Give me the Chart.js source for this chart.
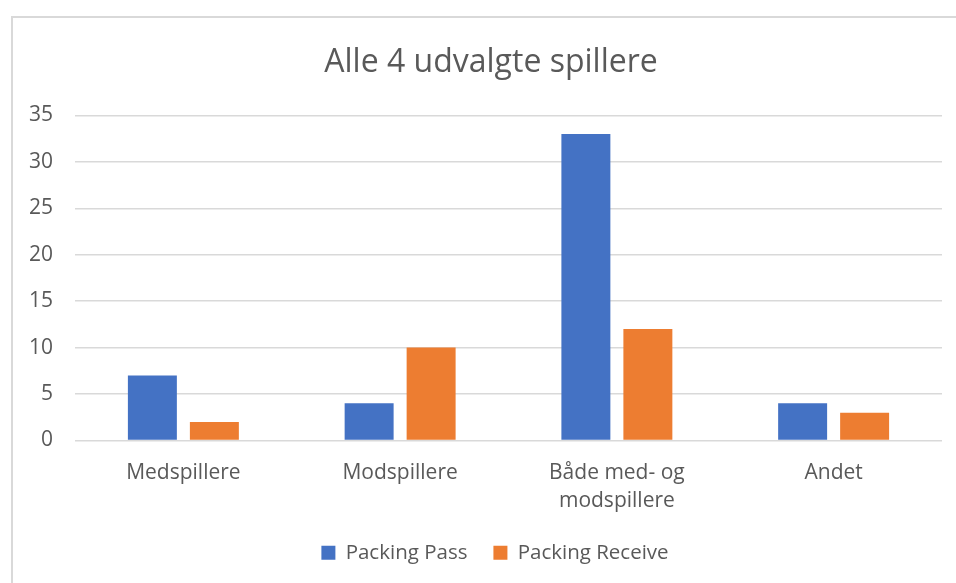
<!DOCTYPE html>
<html>
<head>
<meta charset="utf-8">
<script src="https://cdn.jsdelivr.net/npm/chart.js@4.4.0/dist/chart.umd.min.js"></script>
<style>
  html, body { margin: 0; padding: 0; background: #fff; }
  #wrap { position: relative; width: 956px; height: 583px; }
  #frame {
    position: absolute; left: 11px; top: 16px; right: -10px; bottom: -10px;
    border-left: 2px solid #d9d9d9; border-top: 2px solid #d9d9d9;
  }
  canvas { position: absolute; left: 0; top: 0; }
</style>
</head>
<body>
<div id="wrap">
  <div id="frame"></div>
  <canvas id="chart" width="956" height="583"></canvas>
</div>
<script>
const categories = ['Medspillere', 'Modspillere', ['Både med- og', 'modspillere'], 'Andet'];
const packingPass = [7, 4, 33, 4];
const packingReceive = [2, 10, 12, 3];
const seriesNames = ['Packing Pass', 'Packing Receive'];

const textColor = '#595959';
const gridColor = '#d9d9d9';
const fontFamily = "'Open Sans', 'Noto Sans', sans-serif";

// title and legend sit centred on the whole frame, a bit right of the canvas centre
const shiftBoxes = {
    id: 'shiftBoxes',
    afterLayout(chart) {
        chart.titleBlock.left += 20;
        chart.titleBlock.right += 20;
        chart.legend.left += 24;
        chart.legend.right += 24;
    }
};

const ctx = document.getElementById('chart').getContext('2d');
new Chart(ctx, {
    type: 'bar',
    data: {
        labels: categories,
        datasets: [
            { label: seriesNames[0], data: packingPass, backgroundColor: '#4472c4' },
            { label: seriesNames[1], data: packingReceive, backgroundColor: '#ed7d31' }
        ]
    },
    plugins: [shiftBoxes],
    options: {
        responsive: false,
        animation: false,
        layout: { padding: { left: 0, right: 14, top: 0, bottom: 10 } },
        datasets: {
            bar: { categoryPercentage: 0.572, barPercentage: 0.79 }
        },
        plugins: {
            title: {
                display: true,
                text: 'Alle 4 udvalgte spillere',
                color: textColor,
                font: { family: fontFamily, size: 32, weight: 'normal', lineHeight: 1.2 },
                padding: { top: 44, bottom: 33 }
            },
            legend: {
                position: 'bottom',
                labels: {
                    color: textColor,
                    font: { family: fontFamily, size: 20.5 },
                    boxWidth: 14,
                    boxHeight: 14,
                    padding: 26
                }
            },
            tooltip: { enabled: false }
        },
        scales: {
            x: {
                grid: { display: false },
                border: { display: false },
                ticks: {
                    color: textColor,
                    font: { family: fontFamily, size: 21, lineHeight: 1.35 },
                    padding: 10,
                    maxRotation: 0
                },
                afterFit(scale) { scale.height = 76; }
            },
            y: {
                min: 0,
                max: 35,
                grid: { color: gridColor, lineWidth: 1.5, drawTicks: false },
                border: { display: false },
                ticks: {
                    stepSize: 5,
                    color: textColor,
                    font: { family: fontFamily, size: 21 },
                    padding: 22
                },
                afterFit(scale) { scale.width = 75; }
            }
        }
    }
});
</script>
</body>
</html>
